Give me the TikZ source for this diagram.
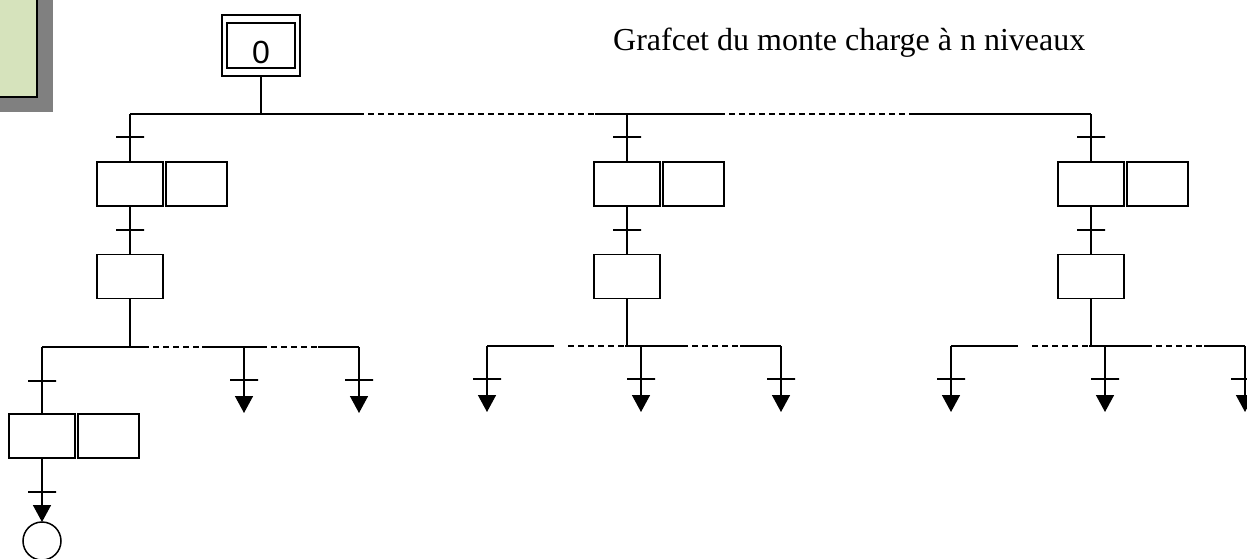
\documentclass[tikz,border=0pt]{standalone}
\usepackage{fontspec}
\setmainfont{Liberation Serif}
\newfontfamily\stepfont{Liberation Sans}
\usetikzlibrary{arrows.meta,positioning}
\definecolor{noteFill}{RGB}{214,227,188}
\definecolor{noteShadow}{RGB}{128,128,128}
\colorlet{ink}{black}
\tikzset{
  >={Triangle[length=17pt,width=18pt]},
  link/.style={draw=ink, line width=1.5pt},
  arrow/.style={-{Triangle[length=17pt,width=18pt]}, draw=ink, line width=1.5pt},
  dashbar/.style={draw=ink, line width=1.1pt, dash pattern=on 6pt off 4pt},
  stepbox/.style={
    draw=ink,
    line width=1.5pt,
    minimum width=66pt,
    minimum height=44pt,
    inner sep=0pt,
    outer sep=0pt
  },
  actionbox/.style={
    draw=ink,
    line width=1.5pt,
    minimum width=61pt,
    minimum height=44pt,
    inner sep=0pt,
    outer sep=0pt
  },
  initbox/.style={
    draw=ink,
    line width=1.5pt,
    minimum width=78pt,
    minimum height=61pt,
    inner sep=0pt,
    outer sep=0pt
  },
  trans/.style={draw=ink, line width=1.5pt, minimum width=28pt, minimum height=0pt, inner sep=0pt, outer sep=0pt},
  finbox/.style={circle, draw=ink, line width=1.5pt, minimum size=38pt, inner sep=0pt, outer sep=0pt},
  titre/.style={font=\fontsize{32}{38}\selectfont, text=ink, inner sep=0pt}
}
% one level: transition, step with its action, transition, step
\newcommand{\NiveauColonne}[2]{%
  \node[trans] (#1t1) at (#2,137) {};
  \node[stepbox] (#1s1) at (#2,184) {};
  \node[actionbox, right=3pt of #1s1] (#1a1) {};
  \node[trans] (#1t2) at (#2,230) {};
  \node[stepbox] (#1s2) at (#2,276.5) {};
  \draw[link] (#1s1.north |- bar0) -- (#1s1.north);
  \draw[link] (#1s1.south) -- (#1s2.north);
}
% branch leaving a divergence bar, ending on an arrow
\newcommand{\BrancheFleche}[3]{%
  \coordinate (#1top) at (#2,#3);
  \node[trans] (#1) at (#2,#3+33) {};
  \coordinate (#1end) at (#2,#3+66);
  \draw[arrow] (#1top) -- (#1end);
}
% divergence under the levels drawn in the middle and on the right
\newcommand{\BarreNiveau}[2]{%
  \coordinate (#1bar) at (#2,346);
  \draw[link] (#1s2.south) -- (#1bar);
  \BrancheFleche{#1b1}{#2-140}{346}
  \BrancheFleche{#1b2}{#2+14}{346}
  \BrancheFleche{#1b3}{#2+154}{346}
  \draw[link] (#1b1top) -- (#2-73,346);
  \draw[dashbar] (#2-59,346) -- (#2-2,346);
  \draw[link] (#2-2,346) -- (#2+55,346);
  \draw[dashbar] (#2+55,346) -- (#2+113,346);
  \draw[link] (#2+113,346) -- (#1b3top);
}

\begin{document}
\begin{tikzpicture}[x=1pt,y=-1pt]
  \useasboundingbox (0,0) rectangle (1247,558);

  % corner frame with its shadow
  \fill[noteShadow] (-10,-10) rectangle (53,112);
  \draw[draw=ink, fill=noteFill, line width=1.6pt] (-10,-10) rectangle (37,97);

  \node[initbox] (s0out) at (261,45.5) {};
  \node[stepbox, minimum width=68pt, minimum height=45pt, text height=35pt, text depth=0pt,
        font=\stepfont\fontsize{32}{36}\selectfont] (s0) at (261,45.5) {0};
  \node[titre, anchor=base west] (titre) at (613,50) {Grafcet du monte charge à n niveaux};

  \coordinate (bar0) at (261,114);
  \draw[link] (s0out.south) -- (bar0);

  \NiveauColonne{l}{130}
  \NiveauColonne{m}{627}
  \NiveauColonne{r}{1091}

  % top divergence
  \draw[link] (ls1.north |- bar0) -- (358,114);
  \draw[dashbar] (358,114) -- (595,114);
  \draw[link] (595,114) -- (719,114);
  \draw[dashbar] (719,114) -- (914,114);
  \draw[link] (914,114) -- (rs1.north |- bar0);

  % divergence under the first level
  \coordinate (lbar) at (130,347);
  \draw[link] (ls2.south) -- (lbar);
  \node[trans] (lb1) at (42,381) {};
  \coordinate (lb1top) at (42,347);
  \BrancheFleche{lb2}{244}{347}
  \BrancheFleche{lb3}{359}{347}
  \draw[link] (lb1top) -- (143,347);
  \draw[dashbar] (143,347) -- (202,347);
  \draw[link] (202,347) -- (261,347);
  \draw[dashbar] (261,347) -- (318,347);
  \draw[link] (318,347) -- (lb3top);

  \node[stepbox] (ls3) at (42,436) {};
  \node[actionbox, right=3pt of ls3] (la3) {};
  \node[trans] (lt4) at (42,492) {};
  \node[finbox] (fin) at (42,541) {};
  \draw[link] (lb1top) -- (ls3.north);
  \draw[arrow] (ls3.south) -- (fin.north);

  \BarreNiveau{m}{627}
  \BarreNiveau{r}{1091}
\end{tikzpicture}
\end{document}
